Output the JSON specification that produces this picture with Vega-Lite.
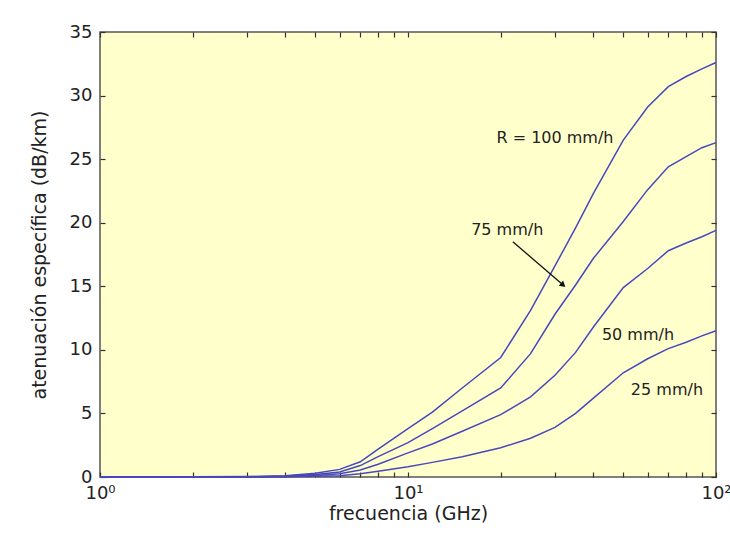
{
  "$schema": "https://vega.github.io/schema/vega-lite/v6.json",
  "width": 616,
  "height": 445,
  "autosize": "none",
  "padding": {"left": 100, "top": 32, "right": 14, "bottom": 67},
  "background": "#ffffff",
  "config": {
    "view": {"fill": "#ffffcc", "stroke": "#555555", "strokeWidth": 1.5},
    "axis": {
      "domain": false,
      "grid": false,
      "zindex": 1,
      "labelFont": "DejaVu Sans",
      "labelFontSize": 18,
      "labelColor": "#222222",
      "tickColor": "#333333",
      "tickWidth": 1.2,
      "titleFont": "DejaVu Sans",
      "titleFontSize": 19,
      "titleFontWeight": "normal",
      "titleColor": "#222222"
    },
    "text": {"font": "DejaVu Sans"}
  },
  "datasets": {
    "curves": [
      {"f": 1, "R": 100, "a": 0}, {"f": 2, "R": 100, "a": 0.01}, {"f": 3, "R": 100, "a": 0.03}, {"f": 4, "R": 100, "a": 0.1},
      {"f": 5, "R": 100, "a": 0.3}, {"f": 6, "R": 100, "a": 0.6}, {"f": 7, "R": 100, "a": 1.2}, {"f": 8, "R": 100, "a": 2.2},
      {"f": 10, "R": 100, "a": 3.8}, {"f": 12, "R": 100, "a": 5.1}, {"f": 15, "R": 100, "a": 7.0}, {"f": 20, "R": 100, "a": 9.4},
      {"f": 25, "R": 100, "a": 13.1}, {"f": 30, "R": 100, "a": 16.6}, {"f": 35, "R": 100, "a": 19.6}, {"f": 40, "R": 100, "a": 22.3},
      {"f": 50, "R": 100, "a": 26.5}, {"f": 60, "R": 100, "a": 29.1}, {"f": 70, "R": 100, "a": 30.7}, {"f": 80, "R": 100, "a": 31.5},
      {"f": 90, "R": 100, "a": 32.1}, {"f": 100, "R": 100, "a": 32.6},

      {"f": 1, "R": 75, "a": 0}, {"f": 2, "R": 75, "a": 0.01}, {"f": 3, "R": 75, "a": 0.02}, {"f": 4, "R": 75, "a": 0.07},
      {"f": 5, "R": 75, "a": 0.2}, {"f": 6, "R": 75, "a": 0.4}, {"f": 7, "R": 75, "a": 0.9}, {"f": 8, "R": 75, "a": 1.6},
      {"f": 10, "R": 75, "a": 2.7}, {"f": 12, "R": 75, "a": 3.8}, {"f": 15, "R": 75, "a": 5.2}, {"f": 20, "R": 75, "a": 7.0},
      {"f": 25, "R": 75, "a": 9.7}, {"f": 30, "R": 75, "a": 12.8}, {"f": 35, "R": 75, "a": 15.1}, {"f": 40, "R": 75, "a": 17.2},
      {"f": 50, "R": 75, "a": 20.1}, {"f": 60, "R": 75, "a": 22.6}, {"f": 70, "R": 75, "a": 24.4}, {"f": 80, "R": 75, "a": 25.2},
      {"f": 90, "R": 75, "a": 25.9}, {"f": 100, "R": 75, "a": 26.3},

      {"f": 1, "R": 50, "a": 0}, {"f": 2, "R": 50, "a": 0}, {"f": 3, "R": 50, "a": 0.01}, {"f": 4, "R": 50, "a": 0.04},
      {"f": 5, "R": 50, "a": 0.12}, {"f": 6, "R": 50, "a": 0.25}, {"f": 7, "R": 50, "a": 0.55}, {"f": 8, "R": 50, "a": 1.0},
      {"f": 10, "R": 50, "a": 1.9}, {"f": 12, "R": 50, "a": 2.6}, {"f": 15, "R": 50, "a": 3.6}, {"f": 20, "R": 50, "a": 4.9},
      {"f": 25, "R": 50, "a": 6.3}, {"f": 30, "R": 50, "a": 8.0}, {"f": 35, "R": 50, "a": 9.8}, {"f": 40, "R": 50, "a": 11.8},
      {"f": 50, "R": 50, "a": 14.9}, {"f": 60, "R": 50, "a": 16.4}, {"f": 70, "R": 50, "a": 17.8}, {"f": 80, "R": 50, "a": 18.4},
      {"f": 90, "R": 50, "a": 18.9}, {"f": 100, "R": 50, "a": 19.4},

      {"f": 1, "R": 25, "a": 0}, {"f": 2, "R": 25, "a": 0}, {"f": 3, "R": 25, "a": 0}, {"f": 4, "R": 25, "a": 0.02},
      {"f": 5, "R": 25, "a": 0.05}, {"f": 6, "R": 25, "a": 0.1}, {"f": 7, "R": 25, "a": 0.25}, {"f": 8, "R": 25, "a": 0.45},
      {"f": 10, "R": 25, "a": 0.8}, {"f": 12, "R": 25, "a": 1.15}, {"f": 15, "R": 25, "a": 1.6}, {"f": 20, "R": 25, "a": 2.3},
      {"f": 25, "R": 25, "a": 3.05}, {"f": 30, "R": 25, "a": 3.9}, {"f": 35, "R": 25, "a": 5.0}, {"f": 40, "R": 25, "a": 6.2},
      {"f": 50, "R": 25, "a": 8.2}, {"f": 60, "R": 25, "a": 9.3}, {"f": 70, "R": 25, "a": 10.1}, {"f": 80, "R": 25, "a": 10.6},
      {"f": 90, "R": 25, "a": 11.1}, {"f": 100, "R": 25, "a": 11.5}
    ],
    "labels": [
      {"f": 30.0, "a": 26.7, "text": "R = 100 mm/h"},
      {"f": 21.0, "a": 19.4, "text": "75 mm/h"},
      {"f": 55.8, "a": 11.2, "text": "50 mm/h"},
      {"f": 69.3, "a": 6.85, "text": "25 mm/h"}
    ],
    "arrow": [
      {"f": 21.9, "a": 18.5, "f2": 31.9, "a2": 15.1}
    ]
  },
  "layer": [
    {
      "data": {"name": "curves"},
      "mark": {"type": "line", "color": "#4848bc", "strokeWidth": 1.5},
      "encoding": {
        "x": {
          "field": "f",
          "type": "quantitative",
          "scale": {"type": "log", "domain": [1, 100], "nice": false},
          "axis": {
            "orient": "bottom",
            "title": "frecuencia (GHz)",
            "titlePadding": 2,
            "values": [1, 2, 3, 4, 5, 6, 7, 8, 9, 10, 20, 30, 40, 50, 60, 70, 80, 90, 100],
            "labelExpr": "datum.value == 1 ? '10⁰' : datum.value == 10 ? '10¹' : datum.value == 100 ? '10²' : ''",
            "labelOverlap": false,
            "labelFlush": false,
            "labelPadding": 12,
            "tickSize": -5
          }
        },
        "y": {
          "field": "a",
          "type": "quantitative",
          "scale": {"domain": [0, 35], "nice": false},
          "axis": {
            "orient": "left",
            "title": "atenuación específica (dB/km)",
            "titlePadding": 20,
            "values": [0, 5, 10, 15, 20, 25, 30, 35],
            "labelPadding": 13,
            "tickSize": -5
          }
        },
        "detail": {"field": "R", "type": "nominal"}
      }
    },
    {
      "data": {"name": "labels"},
      "mark": {"type": "text", "fontSize": 16, "color": "#222222", "align": "center", "baseline": "middle"},
      "encoding": {
        "x": {
          "field": "f",
          "type": "quantitative",
          "axis": {
            "orient": "top",
            "title": null,
            "labels": false,
            "values": [1, 2, 3, 4, 5, 6, 7, 8, 9, 10, 20, 30, 40, 50, 60, 70, 80, 90, 100],
            "tickSize": -5
          }
        },
        "y": {
          "field": "a",
          "type": "quantitative",
          "axis": {
            "orient": "right",
            "title": null,
            "labels": false,
            "values": [0, 5, 10, 15, 20, 25, 30, 35],
            "tickSize": -5
          }
        },
        "text": {"field": "text"}
      }
    },
    {
      "data": {"name": "arrow"},
      "mark": {"type": "rule", "color": "#111111", "strokeWidth": 1.3},
      "encoding": {
        "x": {"field": "f", "type": "quantitative", "axis": null},
        "y": {"field": "a", "type": "quantitative", "axis": null},
        "x2": {"field": "f2"},
        "y2": {"field": "a2"}
      }
    },
    {
      "data": {"name": "arrow"},
      "mark": {"type": "point", "shape": "triangle-right", "filled": true, "color": "#111111", "size": 45, "angle": 40, "opacity": 1},
      "encoding": {
        "x": {"field": "f2", "type": "quantitative", "axis": null},
        "y": {"field": "a2", "type": "quantitative", "axis": null}
      }
    }
  ],
  "resolve": {"axis": {"x": "independent", "y": "independent"}}
}
